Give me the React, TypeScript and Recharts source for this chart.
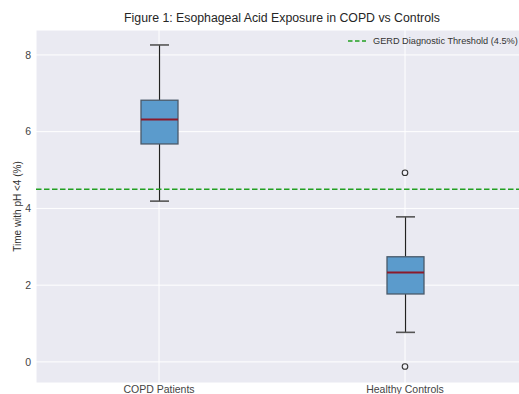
import React from 'react';
import {
  ComposedChart,
  Bar,
  Scatter,
  XAxis,
  YAxis,
  CartesianGrid,
  ReferenceLine,
} from 'recharts';

// Box plot summary
const groups = ['COPD Patients', 'Healthy Controls'];
const whiskerLow = [4.19, 0.77];
const q1 = [5.68, 1.77];
const median = [6.32, 2.33];
const q3 = [6.82, 2.74];
const whiskerHigh = [8.26, 3.78];

const outlierGroups = ['Healthy Controls', 'Healthy Controls'];
const outlierValues = [4.93, -0.12];

const threshold = 4.5;
const thresholdLabel = 'GERD Diagnostic Threshold (4.5%)';
const yTicks = [0, 2, 4, 6, 8];

const rows = groups.map((name, i) => ({
  name,
  min: whiskerLow[i],
  q1: q1[i],
  median: median[i],
  q3: q3[i],
  max: whiskerHigh[i],
}));

const outliers = outlierGroups.map((name, i) => ({ name, value: outlierValues[i] }));

const font = '"Liberation Sans", Arial, sans-serif';
const green = '#22a022';

// draws whiskers, box and median inside the bar spanning [min, max]
const BoxShape = (props: any) => {
  const { x, y, width, height, payload } = props;
  const { min, max } = payload;
  const toY = (v: number) => y + ((max - v) / (max - min)) * height;
  const cx = x + width / 2;
  const capHalf = 9.5;
  const yQ1 = toY(payload.q1);
  const yQ3 = toY(payload.q3);
  const yMed = toY(payload.median);
  const yMin = toY(min);
  const yMax = toY(max);
  return (
    <g>
      <line x1={cx} x2={cx} y1={yMax} y2={yQ3} stroke="#222" strokeWidth={1.2} />
      <line x1={cx} x2={cx} y1={yQ1} y2={yMin} stroke="#222" strokeWidth={1.2} />
      <line x1={cx - capHalf} x2={cx + capHalf} y1={yMax} y2={yMax} stroke="#555" strokeWidth={1.6} />
      <line x1={cx - capHalf} x2={cx + capHalf} y1={yMin} y2={yMin} stroke="#555" strokeWidth={1.6} />
      <rect x={x} y={yQ3} width={width} height={yQ1 - yQ3} fill="#5b9bcc" stroke="#4a5a6a" strokeWidth={1.3} />
      <line x1={x} x2={x + width} y1={yMed} y2={yMed} stroke="#8b1a2a" strokeWidth={2} />
    </g>
  );
};

const OutlierDot = (props: any) => {
  const { cx, cy } = props;
  return <circle cx={cx} cy={cy} r={2.8} fill="none" stroke="#333" strokeWidth={1.1} />;
};

const YLabel = (props: any) => {
  const { viewBox } = props;
  const cy = viewBox.y + viewBox.height / 2;
  return (
    <text
      x={17}
      y={cy}
      transform={`rotate(-90, 17, ${cy})`}
      textAnchor="middle"
      dominantBaseline="central"
      fontSize={10}
      fill="#333"
      fontFamily={font}
    >
      Time with pH &lt;4 (%)
    </text>
  );
};

const App = () => {
  return (
    <div style={{ position: 'absolute', left: 0, top: 0, width: 519, height: 394, overflow: 'hidden', background: '#fff' }}>
      <div
        style={{
          position: 'absolute',
          left: 0,
          top: 11,
          width: 564,
          textAlign: 'center',
          fontFamily: font,
          fontSize: 12.3,
          color: '#262626',
        }}
      >
        Figure 1: Esophageal Acid Exposure in COPD vs Controls
      </div>
      <ComposedChart
        width={540}
        height={410}
        data={rows}
        margin={{ top: 30, right: 12, left: 0, bottom: 0 }}
        style={{ fontFamily: font }}
      >
        <CartesianGrid stroke="#ffffff" strokeWidth={1} fill="#eaeaf2" fillOpacity={1} />
        <XAxis
          dataKey="name"
          type="category"
          allowDuplicatedCategory={false}
          height={27}
          axisLine={false}
          tickLine={false}
          tickSize={0}
          tickMargin={3}
          tick={{ fontSize: 10.5, fill: '#444' }}
        />
        <YAxis
          width={36}
          domain={[-0.55, 8.65]}
          ticks={yTicks}
          type="number"
          allowDataOverflow
          axisLine={false}
          tickLine={false}
          tickSize={0}
          tickMargin={5}
          tick={{ fontSize: 10.5, fill: '#444' }}
          label={<YLabel />}
        />
        <ReferenceLine y={threshold} stroke={green} strokeWidth={1.5} strokeDasharray="5.5 2.5" />
        <Bar
          dataKey={(d: any) => [d.min, d.max]}
          barSize={37}
          shape={<BoxShape />}
          isAnimationActive={false}
        />
        <Scatter data={outliers} dataKey="value" shape={<OutlierDot />} isAnimationActive={false} />
      </ComposedChart>
      <div
        style={{
          position: 'absolute',
          left: 346,
          top: 36,
          display: 'flex',
          alignItems: 'center',
          whiteSpace: 'nowrap',
          fontFamily: font,
          fontSize: 9.2,
          color: '#333',
        }}
      >
        <svg width={22} height={8}>
          <line x1={2} x2={20} y1={4} y2={4} stroke={green} strokeWidth={1.5} strokeDasharray="4.5 2.5" />
        </svg>
        <span style={{ marginLeft: 5 }}>{thresholdLabel}</span>
      </div>
    </div>
  );
};

export default App;
